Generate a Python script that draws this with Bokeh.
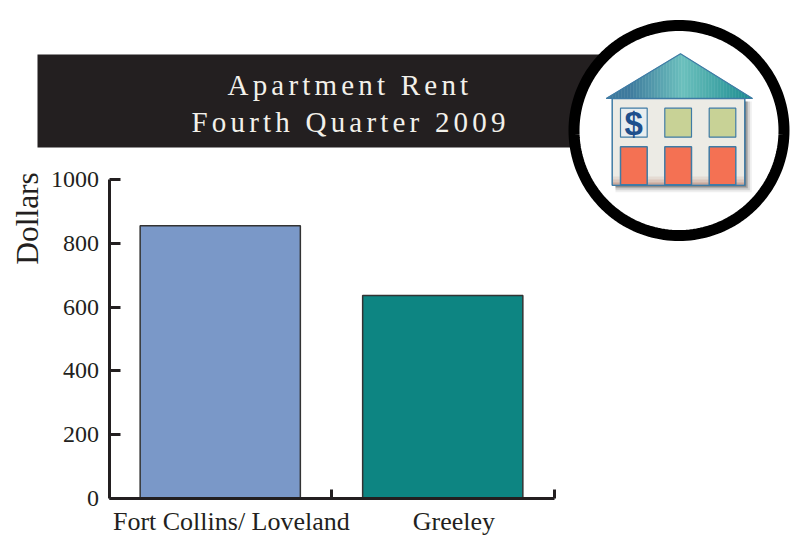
import math
from bokeh.plotting import figure
from bokeh.document import Document
from bokeh.models import LinearAxis, FixedTicker, Range1d, BoxAnnotation, PolyAnnotation, Label, CustomJS
from bokeh.embed import file_html
from bokeh.resources import INLINE

categories = ["Fort Collins/ Loveland", "Greeley"]
rents = [855, 636]
bar_colors = ["#7A98C8", "#0D8582"]
y_ticks = [0, 200, 400, 600, 800, 1000]
title_lines = ["Apartment Rent", "Fourth Quarter 2009"]
y_title = "Dollars"

INK = "#231F20"
SERIF = "Liberation Serif"
W, H = 797, 536
LEFT, RIGHT, TOP, BOTTOM = 108.5, 553.5, 179, 498
ux = (RIGHT - LEFT) / 2
uy = (BOTTOM - TOP) / 1000

p = figure(width=W, height=H, output_backend="svg", toolbar_location=None,
           x_range=Range1d(-LEFT / ux, (W - LEFT) / ux),
           y_range=Range1d(-(H - BOTTOM) / uy, BOTTOM / uy),
           x_axis_type=None, y_axis_type=None,
           min_border=0)
p.outline_line_color = None
p.grid.visible = False

label_shift = 0.05
label_pos = [i + 0.5 + label_shift for i in range(len(categories))]
xaxis = LinearAxis(ticker=FixedTicker(ticks=label_pos, minor_ticks=[1, 2]),
                   fixed_location=0, bounds=(0, 2))
xaxis.major_label_overrides = dict(zip(label_pos, categories))
xaxis.major_tick_in = 0
xaxis.major_tick_out = 0
xaxis.minor_tick_in = 9
xaxis.minor_tick_out = 0
xaxis.minor_tick_line_color = INK
xaxis.minor_tick_line_width = 3
xaxis.axis_line_color = INK
xaxis.axis_line_width = 3
xaxis.major_label_text_font = SERIF
xaxis.major_label_text_font_size = "26px"
xaxis.major_label_text_color = INK
xaxis.major_label_standoff = 8
p.add_layout(xaxis, "below")

yaxis = LinearAxis(ticker=FixedTicker(ticks=y_ticks), fixed_location=0, bounds=(0, 1000))
yaxis.major_tick_in = 11
yaxis.major_tick_out = 0
yaxis.major_tick_line_color = INK
yaxis.major_tick_line_width = 3
yaxis.minor_tick_line_color = None
yaxis.axis_line_color = INK
yaxis.axis_line_width = 3
yaxis.major_label_text_font = SERIF
yaxis.major_label_text_font_size = "24px"
yaxis.major_label_text_color = INK
yaxis.major_label_standoff = 10
p.add_layout(yaxis, "left")

p.vbar(x=[i + 0.5 for i in range(len(categories))], top=rents, width=0.72, bottom=0,
       fill_color=bar_colors, line_color="#333333", line_width=1.5)

def box(l, r, t, b, color, line=None, lw=0, alpha=1.0):
    p.add_layout(BoxAnnotation(left=l, right=r, top=t, bottom=b,
                 left_units="canvas", right_units="canvas", top_units="canvas", bottom_units="canvas",
                 fill_color=color, fill_alpha=alpha, line_color=line, line_alpha=1.0, line_width=lw, level="overlay"))

def poly(xs, ys, color=None, line=None, lw=0, alpha=1.0):
    p.add_layout(PolyAnnotation(xs=list(xs), ys=list(ys),
                 xs_units="canvas", ys_units="canvas",
                 fill_color=color, fill_alpha=alpha if color else 0,
                 line_color=line, line_alpha=1.0, line_width=lw, level="overlay"))

def label(x, y, text, size, color=INK, font=SERIF, align="center", baseline="middle", angle=0, style="normal"):
    p.add_layout(Label(x=x, y=y, x_units="canvas", y_units="canvas", text=text,
                 text_font=font, text_font_size=size, text_color=color, text_align=align,
                 text_baseline=baseline, angle=angle, text_font_style=style, level="overlay"))

# banner
box(37, 600, 54, 147, INK)
label(227, 84, title_lines[0], "29px", color="#F2F0EA", align="left")
label(191, 121, title_lines[1], "29px", color="#F2F0EA", align="left")

# y title
label(27, 218, y_title, "31.5px", angle=math.pi / 2)

# badge
N = 180
ang = [2 * math.pi * k / N for k in range(N)]
poly([678.5 + 105 * math.cos(a) for a in ang], [130 + 105 * math.sin(a) for a in ang],
     color="white", line="black", lw=11)

# house shadow
for d, al in [(7, 0.08), (5, 0.15), (3, 0.25), (1.5, 0.35)]:
    box(615, 744.3 + d, 101, 184.7 + d, "#333333", alpha=al)

# roof gradient
stops = [(605.7, (0x3F, 0x7A, 0x9D)), (628, (0x3F, 0x7A, 0x9D)), (682, (0x6C, 0xC0, 0xBD)), (752, (0x1C, 0x8C, 0x90))]
def roof_col(x):
    for (x0, c0), (x1, c1) in zip(stops, stops[1:]):
        if x <= x1:
            t = (x - x0) / (x1 - x0)
            return "#%02X%02X%02X" % tuple(round(a + (b - a) * t) for a, b in zip(c0, c1))
    return "#1C8C90"
def roof_y(x):
    return 98 - 44.7 * (x - 605.7) / (680 - 605.7) if x <= 680 else 53.3 + 44.7 * (x - 680) / (752 - 680)
x = 605.7
while x < 752:
    nx = min(x + 3, 752)
    pts = [x, nx]
    if x < 680 < nx:
        pts = [x, 680, nx]
    px = pts + [nx, x]
    py = [roof_y(v) for v in pts] + [98, 98]
    poly(px, py, color=roof_col((x + nx) / 2), line=roof_col((x + nx) / 2), lw=0.5)
    x = nx
poly([605.7, 680, 752, 605.7], [98, 53.3, 98, 98], line="#3F7BA5", lw=1.2)

# body
box(611.7, 744.3, 98, 184.7, "#ECEBE5", line="#3F7BA5", lw=1.5)
for t0, al in [(176, 0.10), (179, 0.15), (182, 0.25)]:
    box(612.5, 743.5, t0, 184, "#A0523D", alpha=al)
for l, r in [(620, 646.7), (664.3, 691), (708.7, 735.3)]:
    box(l, r, 146.3, 184.3, "#F47153", line="#3F7BA5", lw=1.5)
box(620, 646.7, 107.7, 136.7, "#E8EDEF", line="#3F7BA5", lw=1.2)
for l, r in [(664.3, 691), (708.7, 735.3)]:
    box(l, r, 107.7, 136.7, "#C8D296", line="#3F7BA5", lw=1.2)
label(633.3, 123, "$", "33px", color="#1E4F8C", font="Liberation Sans", style="bold")

# the banner lines are tracked out: same strings, wider letter spacing on the SVG text
tracking = CustomJS(args=dict(lines=title_lines), code="""
function walk(root) {
  root.querySelectorAll('*').forEach((el) => {
    if (el.tagName.toLowerCase() === 'text' && lines.includes(el.textContent)) {
      el.style.letterSpacing = '4.2px';
    }
    if (el.shadowRoot) walk(el.shadowRoot);
  });
}
[0, 50, 200, 500, 1000].forEach((t) => setTimeout(() => walk(document), t));
""")
doc = Document()
doc.add_root(p)
doc.js_on_event("document_ready", tracking)

open("out.html", "w").write(file_html(p, INLINE))
